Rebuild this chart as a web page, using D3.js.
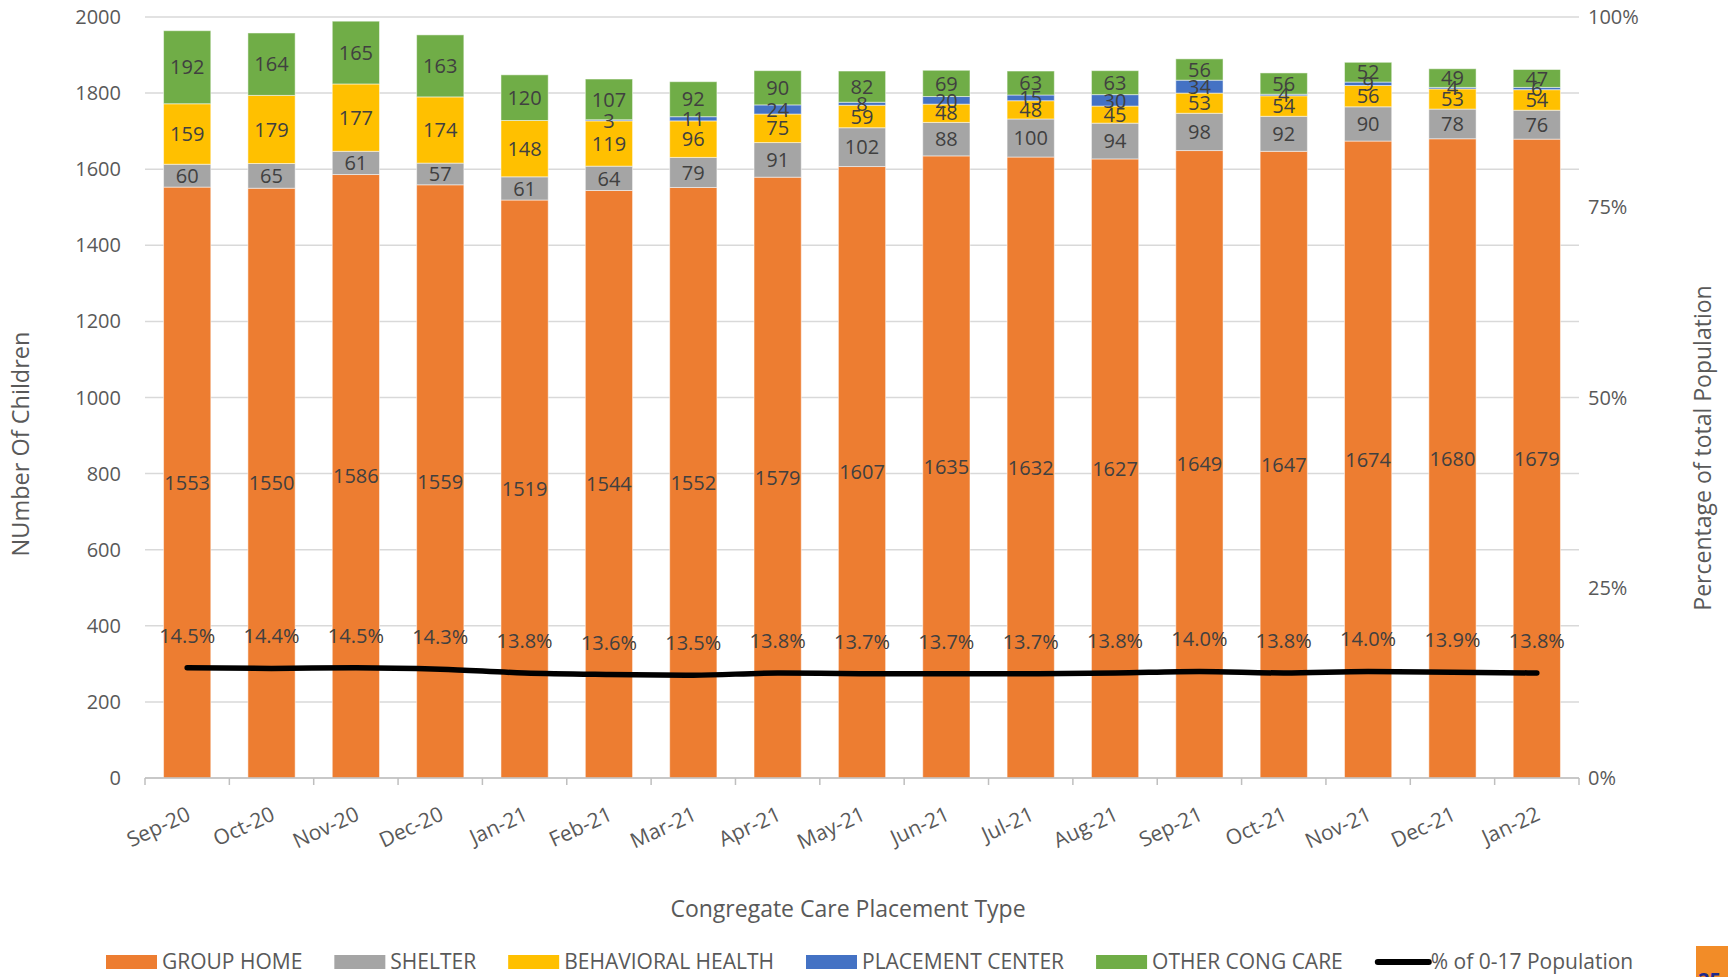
<!DOCTYPE html>
<html>
<head>
<meta charset="utf-8">
<script src="https://cdn.jsdelivr.net/npm/d3@7"></script>
<style>
  body { margin: 0; background: #fff; }
  #chart { width: 1728px; height: 977px; overflow: hidden; }
  text { font-family: "Open Sans", "Noto Sans", sans-serif; }
</style>
</head>
<body>
<div id="chart"></div>
<script>
var months = ["Sep-20", "Oct-20", "Nov-20", "Dec-20", "Jan-21", "Feb-21", "Mar-21", "Apr-21", "May-21",
    "Jun-21", "Jul-21", "Aug-21", "Sep-21", "Oct-21", "Nov-21", "Dec-21", "Jan-22"];
var groupHome = [1553, 1550, 1586, 1559, 1519, 1544, 1552, 1579, 1607, 1635, 1632, 1627, 1649, 1647, 1674, 1680, 1679];
var shelter = [60, 65, 61, 57, 61, 64, 79, 91, 102, 88, 100, 94, 98, 92, 90, 78, 76];
var behavioral = [159, 179, 177, 174, 148, 119, 96, 75, 59, 48, 48, 45, 53, 54, 56, 53, 54];
var placement = [null, null, null, null, null, 3, 11, 24, 8, 20, 15, 30, 34, 4, 9, 4, 6];
var otherCong = [192, 164, 165, 163, 120, 107, 92, 90, 82, 69, 63, 63, 56, 56, 52, 49, 47];
var pctPop = [14.5, 14.4, 14.5, 14.3, 13.8, 13.6, 13.5, 13.8, 13.7, 13.7, 13.7, 13.8, 14.0, 13.8, 14.0, 13.9, 13.8];
var leftTicks = [0, 200, 400, 600, 800, 1000, 1200, 1400, 1600, 1800, 2000];
var rightTicks = [0, 0.25, 0.5, 0.75, 1];

var series = [
    {name: "GROUP HOME", values: groupHome, color: "#ED7D31"},
    {name: "SHELTER", values: shelter, color: "#A5A5A5"},
    {name: "BEHAVIORAL HEALTH", values: behavioral, color: "#FFC000"},
    {name: "PLACEMENT CENTER", values: placement, color: "#4472C4"},
    {name: "OTHER CONG CARE", values: otherCong, color: "#70AD47"}
];

var width = 1728, height = 977;
var margin = {top: 17, right: 149, bottom: 199, left: 145};
var innerW = width - margin.left - margin.right;
var innerH = height - margin.top - margin.bottom;

var svg = d3.select("#chart").append("svg")
    .attr("width", width)
    .attr("height", height);

var g = svg.append("g")
    .attr("transform", "translate(" + margin.left + "," + margin.top + ")");

var x = d3.scaleBand().domain(months).range([0, innerW]).paddingInner(0.44).paddingOuter(0.22);
var y = d3.scaleLinear().domain([0, 2000]).range([innerH, 0]);
var y2 = d3.scaleLinear().domain([0, 1]).range([innerH, 0]);

// gridlines
g.selectAll(".grid")
    .data(leftTicks)
  .enter().append("line")
    .attr("x1", 0).attr("x2", innerW)
    .attr("y1", function(d) { return y(d); })
    .attr("y2", function(d) { return y(d); })
    .attr("stroke", "#d9d9d9")
    .attr("stroke-width", 1.5);

// left axis labels
g.selectAll(".ylab")
    .data(leftTicks)
  .enter().append("text")
    .attr("x", -24)
    .attr("y", function(d) { return y(d); })
    .attr("dy", "0.35em")
    .attr("text-anchor", "end")
    .attr("fill", "#595959")
    .style("font-size", "20px")
    .text(function(d) { return d; });

// right axis labels
g.selectAll(".y2lab")
    .data(rightTicks)
  .enter().append("text")
    .attr("x", innerW + 9)
    .attr("y", function(d) { return y2(d); })
    .attr("dy", "0.35em")
    .attr("fill", "#595959")
    .style("font-size", "20px")
    .text(d3.format(".0%"));

// stacked rows
var rows = months.map(function(m, i) {
    var row = {month: m};
    series.forEach(function(s) { row[s.name] = s.values[i] || 0; });
    return row;
});
var stack = d3.stack().keys(series.map(function(s) { return s.name; }))(rows);

var layer = g.selectAll(".layer")
    .data(stack)
  .enter().append("g")
    .attr("fill", function(d, i) { return series[i].color; });

layer.selectAll("rect")
    .data(function(d) { return d; })
  .enter().append("rect")
    .attr("x", function(d) { return x(d.data.month); })
    .attr("width", x.bandwidth())
    .attr("y", function(d) { return y(d[1]); })
    .attr("height", function(d) { return y(d[0]) - y(d[1]); })
    .attr("stroke", "#ffffff")
    .attr("stroke-opacity", 0.5)
    .attr("stroke-width", 1);

// segment labels
stack.forEach(function(st, k) {
    g.selectAll(".lab" + k)
        .data(st.filter(function(d, i) { return series[k].values[i] != null; }))
      .enter().append("text")
        .attr("x", function(d) { return x(d.data.month) + x.bandwidth() / 2; })
        .attr("y", function(d) { return (y(d[0]) + y(d[1])) / 2; })
        .attr("dy", "0.36em")
        .attr("text-anchor", "middle")
        .attr("fill", "#404040")
        .style("font-size", "20px")
        .text(function(d) { return d[1] - d[0]; });
});

// x axis
g.append("line")
    .attr("x1", 0).attr("x2", innerW)
    .attr("y1", innerH).attr("y2", innerH)
    .attr("stroke", "#bfbfbf").attr("stroke-width", 1.5);

g.selectAll(".xtick")
    .data(d3.range(months.length + 1))
  .enter().append("line")
    .attr("x1", function(i) { return i * x.step(); })
    .attr("x2", function(i) { return i * x.step(); })
    .attr("y1", innerH).attr("y2", innerH + 7)
    .attr("stroke", "#bfbfbf").attr("stroke-width", 1.5);

g.selectAll(".xlab")
    .data(months)
  .enter().append("text")
    .attr("transform", function(d) {
        return "translate(" + (x(d) + x.bandwidth() / 2 - 2) + "," + (innerH + 27) + ") rotate(-25)";
    })
    .attr("dy", "0.75em")
    .attr("text-anchor", "end")
    .attr("fill", "#595959")
    .style("font-size", "21px")
    .text(function(d) { return d; });

// percentage line
var line = d3.line()
    .x(function(d, i) { return x(months[i]) + x.bandwidth() / 2; })
    .y(function(d) { return y2(d / 100); })
    .curve(d3.curveMonotoneX);

g.append("path")
    .datum(pctPop)
    .attr("d", line)
    .attr("fill", "none")
    .attr("stroke", "#000")
    .attr("stroke-width", 5.5)
    .attr("stroke-linecap", "round");

g.selectAll(".plab")
    .data(pctPop)
  .enter().append("text")
    .attr("x", function(d, i) { return x(months[i]) + x.bandwidth() / 2; })
    .attr("y", function(d) { return y2(d / 100) - 25; })
    .attr("text-anchor", "middle")
    .attr("fill", "#404040")
    .style("font-size", "20px")
    .text(function(d) { return d.toFixed(1) + "%"; });

// axis titles
svg.append("text")
    .attr("transform", "translate(29,444) rotate(-90)")
    .attr("text-anchor", "middle")
    .attr("fill", "#595959")
    .style("font-size", "23.5px")
    .text("NUmber Of Children");

svg.append("text")
    .attr("transform", "translate(1711,448) rotate(-90)")
    .attr("text-anchor", "middle")
    .attr("fill", "#595959")
    .style("font-size", "23px")
    .text("Percentage of total Population");

svg.append("text")
    .attr("x", 848).attr("y", 917)
    .attr("text-anchor", "middle")
    .attr("fill", "#595959")
    .style("font-size", "23px")
    .text("Congregate Care Placement Type");

// legend
var legend = svg.append("g").attr("transform", "translate(106,962)");
var lx = 0;
series.forEach(function(s) {
    legend.append("rect")
        .attr("x", lx).attr("y", -7)
        .attr("width", 51).attr("height", 14)
        .attr("fill", s.color);
    var t = legend.append("text")
        .attr("x", lx + 56).attr("y", 0)
        .attr("dy", "0.35em")
        .attr("fill", "#595959")
        .style("font-size", "21px")
        .text(s.name);
    lx += 56 + t.node().getComputedTextLength() + 32;
});
legend.append("line")
    .attr("x1", lx + 3).attr("x2", lx + 54)
    .attr("y1", 0).attr("y2", 0)
    .attr("stroke", "#000").attr("stroke-width", 6)
    .attr("stroke-linecap", "round");
legend.append("text")
    .attr("x", lx + 56).attr("y", 0)
    .attr("dy", "0.35em")
    .attr("fill", "#595959")
    .style("font-size", "21px")
    .text("% of 0-17 Population");

// page corner marker
svg.append("rect")
    .attr("x", 1696).attr("y", 946)
    .attr("width", 32).attr("height", 31)
    .attr("fill", "#F28C28");
svg.append("text")
    .attr("x", 1698).attr("y", 987)
    .attr("fill", "#1F2A8C")
    .style("font-size", "20px")
    .style("font-weight", "bold")
    .text("25");
</script>
</body>
</html>
